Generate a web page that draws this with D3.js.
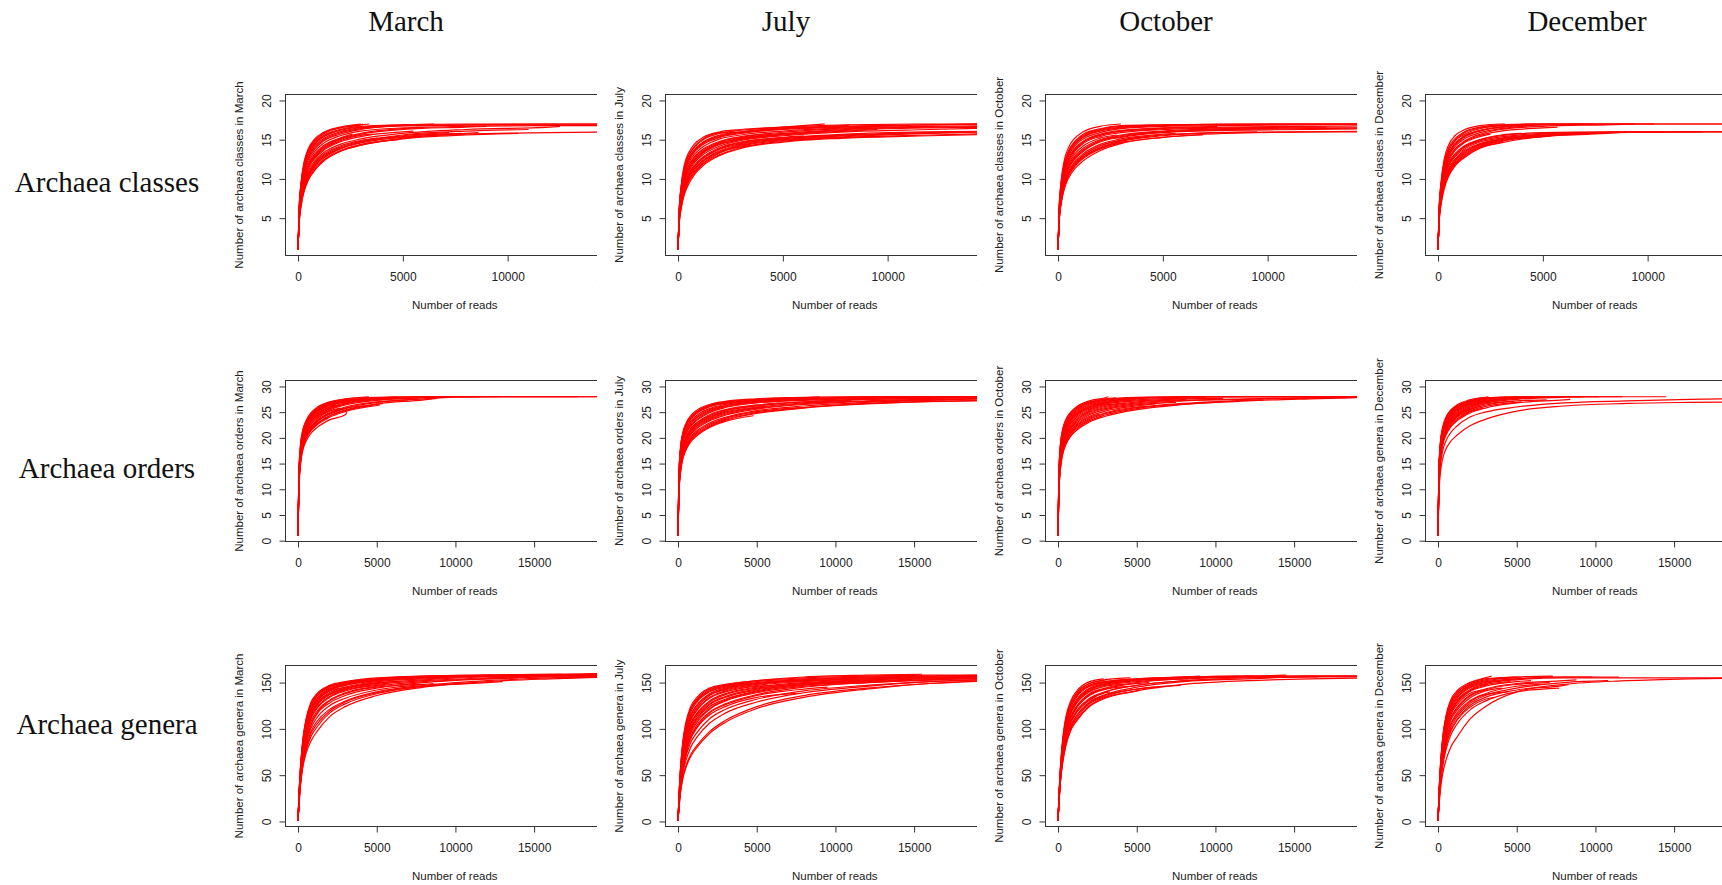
<!DOCTYPE html>
<html>
<head>
<meta charset="utf-8">
<script src="https://cdn.jsdelivr.net/npm/d3@7"></script>
<style>
  html, body { margin: 0; padding: 0; background: #ffffff; }
  svg { display: block; }
  .axis text { font-family: "Liberation Sans", Arial, sans-serif; font-size: 12px; fill: #222; }
  .title { font-family: "Liberation Sans", Arial, sans-serif; font-size: 11.5px; fill: #222; }
  .head { font-family: "Liberation Serif", "Times New Roman", serif; font-size: 29px; fill: #111; }
</style>
</head>
<body>
<svg id="chart" width="1722" height="885"></svg>
<script>
// ---------------- data ----------------
const months = ["March", "July", "October", "December"];
const rowNames = ["Archaea classes", "Archaea orders", "Archaea genera"];

const yTitles = [
  ["Number of archaea classes in March", "Number of archaea classes in July", "Number of archaea classes in October", "Number of archaea classes in December"],
  ["Number of archaea orders in March", "Number of archaea orders in July", "Number of archaea orders in October", "Number of archaea genera in December"],
  ["Number of archaea genera in March", "Number of archaea genera in July", "Number of archaea genera in October", "Number of archaea genera in December"]
];
const xTitle = "Number of reads";

// read depths at which each rarefaction curve is sampled
const readsGridClasses = [0, 50, 150, 300, 500, 800, 1200, 2000, 3000, 5000, 8000, 12000, 15000];
const readsGridDeep = [0, 50, 150, 300, 500, 800, 1200, 2000, 3000, 5000, 8000, 12000, 16000, 20000];

// axis limits (before the usual 4% padding) and tick values
const xMaxClasses = 14958, xMaxDeep = 19920;
const yLimClasses = [1, 20], yLimOrders = [1, 30], yLimGenera = [1, 162];
const xTicksClasses = [0, 5000, 10000, 15000];
const xTicksDeep = [0, 5000, 10000, 15000, 20000];
const yTicksClasses = [5, 10, 15, 20];
const yTicksOrders = [0, 5, 10, 15, 20, 25, 30];
const yTicksGenera = [0, 50, 100, 150];

// Each curve: [last read count, taxa at each grid depth below it ..., taxa at the last read count]
const marchClasses = [
  [3000, 1, 6.1, 9.7, 12.3, 13.9, 15.1, 15.9, 16.6, 17],
  [3400, 1, 5.9, 9.4, 12.0, 13.6, 14.8, 15.7, 16.5, 16.9, 17],
  [6500, 1, 5.8, 9.3, 11.8, 13.4, 14.6, 15.5, 16.3, 16.7, 16.9, 17],
  [15000, 1, 5.6, 8.9, 11.3, 12.9, 14.2, 15.1, 16.0, 16.5, 16.8, 16.9, 17, 17],
  [4200, 1, 5.4, 8.6, 11.0, 12.5, 13.8, 14.8, 15.7, 16.3, 16.7],
  [15000, 1, 5.3, 8.4, 10.7, 12.2, 13.5, 14.5, 15.5, 16.1, 16.5, 16.7, 16.8, 16.8],
  [2600, 1, 5.2, 8.2, 10.4, 11.9, 13.2, 14.2, 15.2, 15.7],
  [9000, 1, 5.0, 8.0, 10.1, 11.6, 12.9, 13.9, 15.0, 15.7, 16.3, 16.6, 16.7],
  [5500, 1, 4.9, 7.8, 9.9, 11.4, 12.6, 13.6, 14.7, 15.4, 16.0, 16.1],
  [12500, 1, 4.8, 7.6, 9.6, 11.1, 12.3, 13.3, 14.4, 15.1, 15.8, 16.3, 16.6, 16.7],
  [3800, 1, 4.7, 7.4, 9.4, 10.8, 12.1, 13.1, 14.2, 14.9, 15.2],
  [7200, 1, 4.6, 7.2, 9.2, 10.6, 11.8, 12.8, 13.9, 14.7, 15.5, 15.9],
  [15000, 1, 4.5, 7.0, 9.0, 10.4, 11.6, 12.6, 13.8, 14.6, 15.3, 15.7, 15.9, 16.0],
  [4800, 1, 4.4, 6.9, 8.8, 10.2, 11.4, 12.4, 13.6, 14.4, 15.0],
  [10500, 1, 4.3, 6.7, 8.6, 10.0, 11.2, 12.3, 13.5, 14.3, 15.1, 15.6, 15.8],
  [8600, 1, 4.2, 6.6, 8.5, 9.9, 11.1, 12.2, 13.5, 14.3, 15.2, 15.8, 15.9],
  [3100, 1, 6.0, 9.5, 12.1, 13.7, 14.9, 15.8, 16.5, 16.9, 17],
  [15000, 1, 5.7, 9.1, 11.6, 13.1, 14.4, 15.3, 16.2, 16.6, 16.9, 17, 17, 17],
  [15000, 1, 5.45, 8.7, 11.1, 12.7, 14.0, 14.95, 15.85, 16.4, 16.75, 16.85, 16.9, 16.9],
  [6000, 1, 5.1, 8.1, 10.25, 11.75, 13.05, 14.05, 15.1, 15.8, 16.4, 16.5],
  [3600, 1, 4.95, 7.9, 10.0, 11.5, 12.75, 13.75, 14.85, 15.55, 15.7],
  [11000, 1, 4.65, 7.3, 9.3, 10.7, 11.95, 12.95, 14.05, 14.8, 15.6, 16.1, 16.3],
  [2300, 1, 5.75, 9.15, 11.7, 13.25, 14.5, 15.4, 16.2, 16.4],
  [7800, 1, 4.5, 7.1, 9.1, 10.5, 11.7, 12.7, 13.85, 14.65, 15.4, 15.8]
];
const julyClasses = [
  [15000, 1, 5.8, 9.2, 11.8, 13.3, 14.5, 15.3, 16.0, 16.3, 16.6, 16.9, 17, 17],
  [7000, 1, 5.6, 8.9, 11.4, 12.9, 14.1, 15.0, 15.8, 16.2, 16.6, 17],
  [15000, 1, 5.5, 8.7, 11.1, 12.6, 13.8, 14.7, 15.6, 16.0, 16.4, 16.7, 16.9, 17],
  [11000, 1, 5.3, 8.4, 10.8, 12.3, 13.5, 14.4, 15.3, 15.8, 16.3, 16.6, 16.8],
  [15000, 1, 5.2, 8.2, 10.5, 12.0, 13.2, 14.1, 15.1, 15.6, 16.1, 16.5, 16.7, 16.8],
  [4500, 1, 5.1, 8.0, 10.3, 11.7, 12.9, 13.8, 14.8, 15.4, 15.8],
  [15000, 1, 5.0, 7.8, 10.0, 11.4, 12.6, 13.5, 14.6, 15.2, 15.8, 16.3, 16.6, 16.7],
  [9500, 1, 4.9, 7.6, 9.7, 11.1, 12.3, 13.3, 14.4, 15.0, 15.6, 16.1, 16.3],
  [15000, 1, 4.8, 7.4, 9.5, 10.9, 12.1, 13.1, 14.2, 14.9, 15.5, 16.0, 16.3, 16.5],
  [6000, 1, 4.7, 7.2, 9.2, 10.6, 11.8, 12.8, 14.0, 14.7, 15.3, 15.5],
  [15000, 1, 4.6, 7.0, 9.0, 10.4, 11.6, 12.6, 13.8, 14.5, 15.2, 15.7, 16.0, 16.1],
  [13500, 1, 4.5, 6.9, 8.8, 10.2, 11.4, 12.4, 13.6, 14.4, 15.1, 15.6, 15.9, 16.0],
  [15000, 1, 4.4, 6.7, 8.6, 10.0, 11.2, 12.2, 13.4, 14.2, 14.9, 15.4, 15.8, 16.0],
  [3500, 1, 4.3, 6.6, 8.4, 9.8, 11.0, 12.0, 13.3, 14.1, 14.3],
  [15000, 1, 4.2, 6.4, 8.2, 9.6, 10.8, 11.9, 13.1, 14.0, 14.8, 15.3, 15.6, 15.8],
  [15000, 1, 4.0, 6.2, 8.0, 9.3, 10.6, 11.7, 13.0, 13.9, 14.7, 15.2, 15.5, 15.7],
  [8200, 1, 5.4, 8.6, 11.0, 12.5, 13.7, 14.6, 15.5, 16.0, 16.5, 16.8, 16.9],
  [5200, 1, 4.9, 7.7, 9.9, 11.3, 12.5, 13.4, 14.5, 15.1, 15.7, 15.8],
  [15000, 1, 5.35, 8.5, 10.9, 12.4, 13.6, 14.5, 15.4, 15.9, 16.35, 16.7, 16.9, 17],
  [15000, 1, 4.95, 7.7, 9.85, 11.25, 12.45, 13.4, 14.5, 15.1, 15.7, 16.2, 16.5, 16.6],
  [8800, 1, 4.65, 7.1, 9.1, 10.5, 11.7, 12.7, 13.9, 14.6, 15.25, 15.6, 15.8],
  [15000, 1, 4.45, 6.8, 8.7, 10.1, 11.3, 12.3, 13.5, 14.3, 15.0, 15.5, 15.85, 16.0],
  [2700, 1, 5.65, 9.0, 11.5, 13.0, 14.2, 15.1, 15.9, 16.0],
  [12200, 1, 5.05, 7.9, 10.15, 11.55, 12.75, 13.65, 14.7, 15.3, 15.95, 16.4, 16.65, 16.7]
];
const octoberClasses = [
  [3000, 1, 6.2, 9.8, 12.4, 14.0, 15.2, 16.0, 16.7, 17],
  [15000, 1, 6.0, 9.5, 12.0, 13.6, 14.8, 15.7, 16.4, 16.8, 16.9, 17, 17, 17],
  [4400, 1, 5.8, 9.2, 11.7, 13.3, 14.5, 15.4, 16.2, 16.6, 16.8],
  [15000, 1, 5.6, 8.9, 11.3, 12.9, 14.2, 15.1, 15.9, 16.4, 16.7, 16.8, 16.9, 17],
  [7600, 1, 5.5, 8.7, 11.0, 12.6, 13.9, 14.8, 15.7, 16.2, 16.5, 16.7],
  [15000, 1, 5.3, 8.4, 10.7, 12.2, 13.5, 14.5, 15.4, 15.9, 16.3, 16.5, 16.6, 16.6],
  [2800, 1, 5.2, 8.2, 10.4, 11.9, 13.2, 14.2, 15.2, 15.6],
  [10500, 1, 5.1, 8.0, 10.2, 11.7, 12.9, 13.9, 15.0, 15.6, 16.1, 16.4, 16.5],
  [15000, 1, 4.9, 7.7, 9.8, 11.3, 12.5, 13.5, 14.7, 15.3, 15.9, 16.2, 16.3, 16.4],
  [5600, 1, 4.8, 7.5, 9.6, 11.0, 12.2, 13.2, 14.4, 15.1, 15.7, 15.8],
  [15000, 1, 4.6, 7.2, 9.2, 10.6, 11.8, 12.8, 14.0, 14.8, 15.5, 15.9, 16.0, 16.0],
  [6900, 1, 4.5, 7.0, 9.0, 10.4, 11.6, 12.6, 13.8, 14.6, 15.3, 15.6],
  [15000, 1, 4.4, 6.8, 8.7, 10.1, 11.3, 12.3, 13.6, 14.5, 15.3, 15.8, 16.0, 16.1],
  [4000, 1, 4.6, 7.3, 9.4, 10.8, 12.0, 13.0, 14.2, 14.9, 15.3],
  [15000, 1, 5.7, 9.0, 11.5, 13.1, 14.4, 15.3, 16.1, 16.5, 16.8, 16.9, 17, 17],
  [12800, 1, 5.0, 7.9, 10.0, 11.5, 12.7, 13.7, 14.9, 15.5, 16.0, 16.3, 16.5, 16.5],
  [15000, 1, 5.9, 9.35, 11.85, 13.45, 14.65, 15.55, 16.3, 16.7, 16.85, 16.95, 17, 17],
  [5300, 1, 5.4, 8.55, 10.85, 12.4, 13.7, 14.65, 15.55, 16.05, 16.4, 16.5],
  [15000, 1, 5.0, 7.8, 9.9, 11.4, 12.6, 13.6, 14.8, 15.4, 16.0, 16.3, 16.4, 16.5],
  [9500, 1, 4.7, 7.35, 9.4, 10.8, 12.0, 13.0, 14.2, 14.95, 15.6, 15.95, 16.0],
  [3300, 1, 4.5, 7.1, 9.1, 10.5, 11.7, 12.7, 13.9, 14.7, 14.8],
  [15000, 1, 5.45, 8.6, 10.9, 12.45, 13.75, 14.7, 15.6, 16.1, 16.45, 16.6, 16.7, 16.8]
];
const decemberClasses = [
  [3200, 1, 6.2, 9.8, 12.6, 14.3, 15.5, 16.2, 16.8, 17, 17],
  [10300, 1, 6.0, 9.5, 12.2, 13.9, 15.1, 15.9, 16.6, 16.9, 17, 17, 17],
  [15000, 1, 5.8, 9.2, 11.8, 13.5, 14.8, 15.6, 16.4, 16.8, 17, 17, 17, 17],
  [7400, 1, 5.7, 9.0, 11.5, 13.2, 14.5, 15.4, 16.2, 16.6, 16.9, 17],
  [4600, 1, 5.5, 8.7, 11.1, 12.8, 14.1, 15.0, 15.9, 16.4, 16.8],
  [9400, 1, 5.4, 8.5, 10.9, 12.5, 13.8, 14.7, 15.7, 16.3, 16.7, 16.9, 17],
  [2500, 1, 5.3, 8.4, 10.7, 12.3, 13.6, 14.5, 15.4, 15.7],
  [10800, 1, 5.2, 8.2, 10.5, 12.0, 13.2, 14.1, 15.0, 15.5, 15.9, 16.0, 16.0],
  [6100, 1, 5.0, 7.9, 10.1, 11.6, 12.8, 13.7, 14.7, 15.2, 15.7, 15.9],
  [15000, 1, 4.9, 7.7, 9.8, 11.3, 12.5, 13.5, 14.5, 15.1, 15.6, 15.9, 16.0, 16.0],
  [8600, 1, 4.8, 7.5, 9.6, 11.0, 12.2, 13.2, 14.3, 14.9, 15.5, 15.9, 16.0],
  [5400, 1, 4.6, 7.2, 9.2, 10.7, 11.9, 12.9, 14.1, 14.8, 15.4, 15.5],
  [9000, 1, 4.4, 6.8, 8.8, 10.3, 11.6, 12.6, 13.9, 14.6, 15.4, 15.8, 16.0],
  [3600, 1, 5.6, 8.8, 11.3, 13.0, 14.3, 15.2, 16.1, 16.6, 16.8],
  [4000, 1, 5.1, 8.0, 10.3, 11.8, 13.0, 14.0, 15.0, 15.6, 15.8],
  [7000, 1, 5.9, 9.3, 12.0, 13.7, 14.9, 15.8, 16.5, 16.8, 17, 17],
  [15000, 1, 5.65, 8.9, 11.4, 13.1, 14.4, 15.3, 16.15, 16.6, 16.9, 17, 17, 17],
  [5700, 1, 5.35, 8.45, 10.8, 12.4, 13.7, 14.6, 15.55, 16.1, 16.5, 16.6],
  [15000, 1, 5.1, 8.05, 10.3, 11.8, 13.0, 13.9, 14.85, 15.35, 15.8, 15.95, 16, 16],
  [7900, 1, 4.7, 7.35, 9.4, 10.85, 12.05, 13.05, 14.2, 14.85, 15.45, 15.85],
  [3100, 1, 4.5, 7.0, 9.0, 10.5, 11.75, 12.75, 14.0, 14.7, 14.8],
  [12600, 1, 4.85, 7.6, 9.7, 11.15, 12.35, 13.35, 14.4, 15.0, 15.55, 15.9, 16.0, 16.0]
];

const marchOrders = [
  [4500, 1, 13.0, 18.5, 21.5, 23.3, 24.8, 25.9, 27.0, 27.6, 28],
  [20000, 1, 12.5, 18.0, 21.0, 22.9, 24.4, 25.6, 26.8, 27.5, 27.9, 28, 28, 28, 28],
  [3800, 1, 12.2, 17.6, 20.6, 22.5, 24.1, 25.3, 26.5, 27.2, 27.5],
  [11500, 1, 11.8, 17.2, 20.2, 22.1, 23.7, 24.9, 26.2, 27.0, 27.7, 28, 28],
  [5600, 1, 11.5, 16.8, 19.8, 21.7, 23.3, 24.5, 25.9, 26.8, 27.6, 27.7],
  [17800, 1, 11.2, 16.4, 19.4, 21.3, 22.9, 24.1, 25.6, 26.6, 27.4, 27.8, 28, 28, 28],
  [2700, 1, 11.0, 16.1, 19.0, 20.9, 22.5, 23.7, 25.2, 25.8],
  [7000, 1, 10.8, 15.8, 18.7, 20.6, 22.2, 23.4, 24.9, 26.0, 27.0, 27.4],
  [4200, 1, 10.5, 15.5, 18.4, 20.3, 21.9, 23.1, 24.6, 25.7, 26.3],
  [8800, 1, 10.3, 15.2, 18.1, 20.0, 21.6, 22.8, 24.3, 25.4, 26.6, 27.4, 27.7],
  [3100, 1, 9.5, 14.5, 17.5, 19.3, 20.8, 22.0, 23.5, 24.5, 25.0],
  [5200, 1, 10.0, 15.0, 17.9, 19.8, 21.3, 22.5, 24.0, 25.1, 26.3, 26.4],
  [3500, 1, 12.8, 18.3, 21.3, 23.1, 24.6, 25.7, 26.9, 27.5, 27.7],
  [6300, 1, 12.0, 17.4, 20.4, 22.3, 23.9, 25.1, 26.4, 27.1, 27.8, 28],
  [2400, 1, 11.6, 17.0, 20.0, 21.9, 23.5, 24.7, 26.0, 26.5],
  [9800, 1, 10.7, 15.7, 18.6, 20.5, 22.1, 23.3, 24.8, 25.8, 26.9, 27.6, 27.9],
  [20000, 1, 12.3, 17.8, 20.8, 22.7, 24.25, 25.45, 26.65, 27.35, 27.8, 28, 28, 28, 28],
  [4100, 1, 11.9, 17.4, 20.4, 22.3, 23.9, 25.1, 26.35, 27.1, 27.4],
  [6800, 1, 11.3, 16.6, 19.6, 21.5, 23.1, 24.3, 25.75, 26.7, 27.5, 27.7],
  [3300, 1, 10.6, 15.6, 18.5, 20.4, 22.0, 23.2, 24.7, 25.75, 26.0],
  [12800, 1, 11.0, 16.2, 19.2, 21.1, 22.7, 23.9, 25.4, 26.4, 27.3, 27.8, 28, 28],
  [5400, 1, 10.2, 15.1, 18.0, 19.9, 21.5, 22.7, 24.2, 25.3, 26.5, 26.7]
];
const julyOrders = [
  [20000, 1, 12.5, 18.0, 21.0, 22.8, 24.3, 25.4, 26.5, 27.1, 27.6, 27.9, 28, 28, 28],
  [9000, 1, 12.0, 17.4, 20.4, 22.2, 23.7, 24.9, 26.1, 26.8, 27.4, 27.8, 28],
  [20000, 1, 11.6, 16.9, 19.9, 21.7, 23.2, 24.4, 25.7, 26.5, 27.2, 27.6, 27.9, 28, 28],
  [14000, 1, 11.2, 16.4, 19.4, 21.2, 22.7, 23.9, 25.3, 26.2, 27.0, 27.5, 27.8, 27.9],
  [20000, 1, 10.8, 15.9, 18.9, 20.7, 22.2, 23.4, 24.9, 25.9, 26.8, 27.3, 27.7, 27.9, 28],
  [6500, 1, 10.5, 15.5, 18.4, 20.2, 21.8, 23.0, 24.5, 25.5, 26.4, 26.8],
  [20000, 1, 10.2, 15.1, 18.0, 19.8, 21.4, 22.6, 24.1, 25.2, 26.2, 27.0, 27.5, 27.7, 27.8],
  [11000, 1, 9.9, 14.7, 17.6, 19.4, 21.0, 22.2, 23.7, 24.8, 25.9, 26.8, 27.3],
  [20000, 1, 9.6, 14.3, 17.2, 19.0, 20.6, 21.8, 23.3, 24.4, 25.6, 26.5, 27.1, 27.4, 27.6],
  [17000, 1, 9.3, 13.9, 16.8, 18.6, 20.2, 21.4, 22.9, 24.0, 25.3, 26.2, 26.9, 27.3, 27.4],
  [20000, 1, 8.9, 13.4, 16.3, 18.1, 19.7, 20.9, 22.4, 23.6, 24.9, 25.9, 26.7, 27.1, 27.3],
  [4800, 1, 8.5, 13.0, 15.8, 17.6, 19.2, 20.4, 22.0, 23.2, 24.3],
  [8500, 1, 11.9, 17.3, 20.3, 22.1, 23.6, 24.8, 26.0, 26.7, 27.3, 27.7, 27.8],
  [5500, 1, 10.0, 14.9, 17.8, 19.6, 21.2, 22.4, 23.9, 25.0, 26.0, 26.2],
  [20000, 1, 11.4, 16.6, 19.6, 21.4, 22.9, 24.1, 25.5, 26.3, 27.1, 27.6, 27.9, 28, 28],
  [3600, 1, 12.3, 17.7, 20.7, 22.5, 24.0, 25.1, 26.3, 26.9, 27.1],
  [20000, 1, 12.2, 17.6, 20.6, 22.4, 23.9, 25.1, 26.3, 26.95, 27.5, 27.85, 28, 28, 28],
  [20000, 1, 11.0, 16.1, 19.1, 20.9, 22.4, 23.6, 25.1, 26.05, 26.9, 27.4, 27.8, 27.9, 28],
  [15500, 1, 10.4, 15.3, 18.2, 20.0, 21.6, 22.8, 24.3, 25.35, 26.3, 27.0, 27.5, 27.7],
  [20000, 1, 9.75, 14.5, 17.4, 19.2, 20.8, 22.0, 23.5, 24.6, 25.75, 26.65, 27.2, 27.5, 27.7],
  [7800, 1, 9.1, 13.65, 16.55, 18.35, 19.95, 21.15, 22.65, 23.8, 25.1, 25.9],
  [20000, 1, 8.7, 13.2, 16.05, 17.85, 19.45, 20.65, 22.2, 23.4, 24.75, 25.8, 26.6, 27.05, 27.3]
];
const octoberOrders = [
  [3200, 1, 13.0, 18.8, 21.8, 23.6, 25.0, 26.1, 27.2, 27.8, 28],
  [20000, 1, 12.6, 18.3, 21.3, 23.1, 24.6, 25.7, 26.9, 27.5, 27.9, 28, 28, 28, 28],
  [5800, 1, 12.2, 17.8, 20.8, 22.7, 24.2, 25.3, 26.6, 27.3, 27.8, 27.9],
  [20000, 1, 11.8, 17.3, 20.3, 22.2, 23.7, 24.9, 26.2, 27.0, 27.6, 27.9, 28, 28, 28],
  [10500, 1, 11.4, 16.8, 19.8, 21.7, 23.3, 24.5, 25.8, 26.6, 27.2, 27.6, 27.7],
  [4300, 1, 11.0, 16.3, 19.3, 21.2, 22.8, 24.0, 25.4, 26.3, 26.8],
  [20000, 1, 10.6, 15.8, 18.8, 20.7, 22.3, 23.5, 25.0, 25.9, 26.8, 27.3, 27.6, 27.8, 27.9],
  [7500, 1, 10.2, 15.3, 18.3, 20.2, 21.8, 23.0, 24.5, 25.5, 26.4, 26.9],
  [2600, 1, 9.8, 14.8, 17.8, 19.7, 21.3, 22.5, 24.0, 24.6],
  [13000, 1, 9.4, 14.3, 17.3, 19.2, 20.8, 22.0, 23.6, 24.7, 25.9, 26.7, 27.3, 27.4],
  [20000, 1, 9.0, 13.8, 16.8, 18.7, 20.3, 21.5, 23.1, 24.2, 25.5, 26.5, 27.2, 27.6, 27.9],
  [3700, 1, 12.8, 18.5, 21.5, 23.4, 24.8, 25.9, 27.0, 27.6, 27.8],
  [4900, 1, 11.6, 17.0, 20.0, 21.9, 23.5, 24.7, 26.0, 26.8, 27.4],
  [8200, 1, 10.8, 16.0, 19.0, 20.9, 22.5, 23.7, 25.2, 26.1, 27.0, 27.5, 27.6],
  [6200, 1, 10.0, 15.0, 18.0, 19.9, 21.5, 22.7, 24.2, 25.2, 26.2, 26.6],
  [16500, 1, 12.0, 17.5, 20.5, 22.4, 23.9, 25.1, 26.4, 27.1, 27.7, 28, 28, 28, 28],
  [20000, 1, 12.4, 18.05, 21.05, 22.9, 24.4, 25.5, 26.75, 27.4, 27.85, 28, 28, 28, 28],
  [9400, 1, 11.6, 17.05, 20.05, 21.95, 23.5, 24.7, 26.0, 26.8, 27.4, 27.75, 27.8],
  [20000, 1, 10.4, 15.55, 18.55, 20.45, 22.05, 23.25, 24.75, 25.7, 26.6, 27.2, 27.5, 27.75, 27.9],
  [5500, 1, 9.6, 14.55, 17.55, 19.45, 21.05, 22.25, 23.8, 24.85, 26.0, 26.1],
  [3400, 1, 11.2, 16.55, 19.55, 21.45, 23.05, 24.25, 25.6, 26.45, 26.6],
  [11500, 1, 9.2, 14.05, 17.05, 18.95, 20.55, 21.75, 23.35, 24.45, 25.7, 26.6, 27.1]
];
const decemberOrders = [
  [3200, 1, 13.5, 19.2, 22.2, 24.0, 25.4, 26.4, 27.4, 27.9, 28],
  [6000, 1, 13.0, 18.7, 21.7, 23.5, 25.0, 26.1, 27.1, 27.7, 28, 28],
  [11700, 1, 12.6, 18.2, 21.2, 23.1, 24.6, 25.7, 26.8, 27.5, 27.9, 28, 28],
  [4200, 1, 12.2, 17.8, 20.8, 22.7, 24.2, 25.3, 26.5, 27.2, 27.6],
  [14500, 1, 11.8, 17.3, 20.3, 22.2, 23.7, 24.9, 26.2, 27.0, 27.7, 28, 28, 28],
  [9200, 1, 11.4, 16.8, 19.8, 21.7, 23.3, 24.5, 25.9, 26.8, 27.5, 27.9, 28],
  [2700, 1, 11.0, 16.4, 19.4, 21.3, 22.9, 24.1, 25.5, 26.2],
  [5300, 1, 10.7, 16.0, 19.0, 20.9, 22.5, 23.7, 25.2, 26.1, 26.9, 27.0],
  [3600, 1, 12.9, 18.5, 21.5, 23.3, 24.8, 25.9, 27.0, 27.6, 27.8],
  [7600, 1, 12.0, 17.5, 20.5, 22.4, 23.9, 25.1, 26.4, 27.1, 27.7, 28],
  [20000, 1, 9.5, 14.5, 17.5, 19.4, 21.0, 22.3, 24.0, 25.0, 26.0, 26.8, 27.2, 27.5, 27.7],
  [20000, 1, 8.5, 13.2, 16.0, 17.8, 19.3, 20.5, 22.3, 23.6, 25.2, 26.2, 26.7, 26.9, 27.0],
  [2200, 1, 12.4, 18.0, 21.0, 22.9, 24.4, 25.5, 26.7, 26.8],
  [4800, 1, 11.2, 16.6, 19.6, 21.5, 23.1, 24.3, 25.7, 26.6, 27.1],
  [8400, 1, 10.4, 15.6, 18.6, 20.5, 22.1, 23.3, 24.8, 25.8, 26.8, 27.4, 27.5],
  [6600, 1, 13.2, 18.9, 21.9, 23.8, 25.2, 26.2, 27.2, 27.8, 28, 28],
  [5100, 1, 12.8, 18.45, 21.45, 23.3, 24.8, 25.85, 26.95, 27.55, 27.9, 27.9],
  [10200, 1, 12.3, 17.95, 20.95, 22.85, 24.35, 25.45, 26.6, 27.3, 27.8, 28, 28],
  [3900, 1, 11.6, 17.05, 20.05, 21.95, 23.5, 24.7, 26.05, 26.9, 27.2],
  [6900, 1, 11.0, 16.3, 19.3, 21.2, 22.8, 24.0, 25.45, 26.35, 27.2, 27.4],
  [2900, 1, 10.5, 15.8, 18.8, 20.7, 22.3, 23.5, 25.0, 25.8],
  [4400, 1, 13.1, 18.8, 21.8, 23.65, 25.1, 26.15, 27.15, 27.7, 27.9]
];

const marchGenera = [
  [12300, 1, 25, 58, 88, 110, 128, 138, 147, 151, 155, 157, 158, 158],
  [20000, 1, 24, 55, 85, 107, 125, 136, 145, 150, 154, 157, 158, 159, 160],
  [7200, 1, 23, 53, 82, 104, 122, 133, 143, 148, 153, 155],
  [17500, 1, 22, 51, 79, 101, 119, 130, 141, 147, 152, 155, 157, 158, 158],
  [9500, 1, 21, 50, 77, 98, 116, 128, 139, 145, 151, 154, 155],
  [20000, 1, 20, 48, 74, 95, 113, 125, 137, 143, 149, 153, 156, 157, 158],
  [5600, 1, 19, 46, 72, 92, 110, 122, 134, 141, 147, 148],
  [14000, 1, 19, 45, 70, 89, 107, 119, 131, 139, 146, 151, 154, 155],
  [20000, 1, 18, 43, 67, 86, 103, 116, 128, 136, 144, 150, 154, 156, 157],
  [8600, 1, 17, 42, 65, 83, 100, 112, 125, 133, 142, 148, 149],
  [20000, 1, 17, 41, 63, 80, 96, 108, 121, 130, 140, 147, 152, 155, 156],
  [11000, 1, 16, 39, 60, 76, 91, 102, 117, 127, 138, 146, 149],
  [20000, 1, 15, 38, 58, 73, 86, 97, 113, 124, 136, 145, 151, 154, 156],
  [4400, 1, 24, 56, 86, 108, 126, 137, 146, 150, 152],
  [6400, 1, 20, 49, 76, 97, 115, 127, 138, 144, 150, 151],
  [16800, 1, 22, 52, 80, 102, 120, 131, 142, 148, 153, 156, 158, 159, 159],
  [3200, 1, 21, 50, 78, 100, 118, 130, 141, 145, 146],
  [20000, 1, 23, 54, 84, 106, 124, 135, 144, 149, 153, 156, 157, 158, 159],
  [20000, 1, 24, 56, 86, 108, 126, 137, 146, 150, 154, 156, 157, 158, 159],
  [10500, 1, 22, 52, 81, 103, 121, 132, 142, 147, 152, 155, 156],
  [20000, 1, 20, 47, 73, 93, 111, 123, 135, 142, 148, 152, 155, 157, 158],
  [7800, 1, 18, 44, 68, 87, 104, 117, 130, 138, 145, 148],
  [13000, 1, 16, 40, 62, 78, 94, 105, 119, 129, 139, 146, 150, 151],
  [5200, 1, 21, 49, 75, 96, 114, 126, 137, 143, 149, 149]
];
const julyGenera = [
  [20000, 1, 24, 56, 86, 107, 124, 134, 144, 148, 152, 155, 157, 158, 158],
  [15500, 1, 23, 54, 83, 104, 121, 131, 142, 147, 152, 156, 158, 159],
  [20000, 1, 22, 52, 80, 101, 118, 129, 140, 145, 150, 153, 155, 156, 157],
  [9000, 1, 21, 50, 77, 98, 115, 126, 138, 144, 149, 152, 153],
  [20000, 1, 20, 48, 74, 95, 112, 123, 136, 142, 148, 152, 154, 155, 156],
  [6000, 1, 19, 46, 71, 92, 109, 120, 133, 140, 146, 147],
  [20000, 1, 19, 45, 69, 89, 106, 117, 130, 138, 145, 150, 153, 155, 156],
  [12500, 1, 18, 43, 66, 86, 103, 114, 127, 135, 143, 149, 152, 152],
  [20000, 1, 17, 41, 63, 82, 99, 111, 124, 132, 141, 148, 152, 154, 155],
  [17000, 1, 16, 39, 60, 79, 95, 107, 121, 130, 139, 146, 150, 153, 154],
  [20000, 1, 16, 38, 58, 76, 92, 104, 118, 127, 137, 145, 150, 153, 155],
  [7500, 1, 15, 36, 56, 73, 89, 101, 115, 124, 134, 138],
  [20000, 1, 14, 34, 52, 66, 80, 91, 106, 117, 129, 139, 146, 151, 153],
  [20000, 1, 12, 31, 47, 60, 72, 82, 97, 109, 124, 136, 144, 149, 152],
  [20000, 1, 12, 30, 46, 58, 70, 80, 95, 107, 122, 134, 143, 149, 152],
  [4500, 1, 23, 55, 84, 105, 122, 132, 143, 147, 149],
  [20000, 1, 21, 49, 76, 97, 114, 125, 137, 143, 149, 153, 156, 157, 158],
  [10500, 1, 18, 44, 68, 88, 105, 116, 129, 137, 144, 149, 151],
  [20000, 1, 22, 53, 82, 103, 120, 130, 141, 146, 151, 154, 156, 157, 158],
  [20000, 1, 20, 47, 72, 93, 110, 121, 134, 141, 147, 151, 154, 155, 156],
  [14000, 1, 18, 42, 65, 84, 101, 112, 126, 134, 142, 148, 151, 152],
  [20000, 1, 17, 40, 61, 80, 97, 109, 122, 131, 140, 147, 151, 153, 155],
  [9500, 1, 15, 37, 57, 74, 90, 102, 117, 126, 136, 143, 145],
  [20000, 1, 15, 35, 54, 70, 85, 96, 111, 121, 132, 141, 147, 151, 154]
];
const octoberGenera = [
  [2900, 1, 24, 58, 90, 113, 130, 141, 151, 154],
  [4600, 1, 23, 56, 87, 110, 127, 139, 149, 153, 155],
  [20000, 1, 23, 55, 85, 108, 125, 137, 147, 151, 154, 156, 157, 157, 157],
  [3500, 1, 22, 53, 83, 106, 123, 135, 146, 150, 151],
  [6800, 1, 22, 52, 81, 103, 120, 132, 144, 149, 153, 154],
  [14500, 1, 21, 51, 79, 101, 118, 130, 142, 148, 152, 155, 157, 158],
  [4100, 1, 21, 50, 77, 99, 116, 128, 140, 146, 148],
  [20000, 1, 20, 49, 75, 96, 113, 125, 138, 144, 150, 154, 156, 157, 157],
  [5800, 1, 20, 48, 73, 94, 111, 123, 136, 143, 149, 150],
  [10500, 1, 19, 47, 71, 91, 108, 120, 133, 140, 147, 152, 154],
  [3300, 1, 19, 46, 70, 89, 106, 118, 131, 139, 140],
  [20000, 1, 18, 45, 68, 87, 103, 115, 129, 137, 145, 151, 154, 156, 156],
  [7800, 1, 18, 44, 66, 85, 101, 112, 127, 135, 143, 147],
  [5200, 1, 17, 43, 65, 83, 99, 110, 125, 134, 141, 142],
  [20000, 1, 17, 42, 64, 82, 98, 109, 124, 133, 141, 148, 152, 154, 155],
  [12400, 1, 21, 52, 80, 102, 119, 131, 143, 148, 153, 156, 157, 157],
  [2500, 1, 20, 48, 74, 95, 112, 124, 137, 141],
  [9000, 1, 22, 54, 84, 107, 124, 136, 147, 151, 154, 156, 157],
  [20000, 1, 22, 54, 84, 106, 123, 135, 146, 150, 153, 155, 156, 157, 157],
  [8300, 1, 21, 51, 78, 100, 117, 129, 141, 147, 151, 154, 154],
  [4500, 1, 20, 48, 74, 95, 112, 124, 137, 143, 146],
  [16500, 1, 19, 46, 70, 90, 107, 119, 132, 140, 147, 152, 155, 156, 156],
  [6200, 1, 18, 44, 67, 86, 102, 114, 128, 136, 143, 145],
  [3100, 1, 23, 56, 88, 111, 128, 139, 149, 153, 154]
];
const decemberGenera = [
  [3400, 1, 26, 60, 92, 114, 131, 141, 150, 155, 157],
  [7300, 1, 25, 58, 89, 111, 128, 139, 148, 153, 156, 157],
  [11500, 1, 24, 56, 86, 108, 125, 136, 146, 151, 154, 156, 156],
  [20000, 1, 23, 54, 83, 105, 122, 133, 144, 149, 153, 155, 155, 155, 155],
  [4600, 1, 23, 53, 81, 103, 120, 131, 142, 148, 151],
  [5900, 1, 22, 51, 79, 100, 117, 128, 140, 146, 151, 152],
  [2800, 1, 21, 50, 77, 98, 115, 126, 138, 142],
  [8800, 1, 21, 49, 75, 95, 112, 123, 136, 143, 149, 152, 153],
  [4100, 1, 20, 47, 72, 92, 109, 120, 133, 141, 144],
  [6500, 1, 19, 45, 69, 89, 105, 117, 130, 138, 146, 148],
  [10800, 1, 18, 43, 66, 85, 101, 113, 127, 136, 144, 150, 152],
  [3600, 1, 17, 41, 63, 81, 97, 109, 123, 132, 134],
  [7700, 1, 16, 39, 60, 77, 93, 105, 120, 130, 140, 144],
  [20000, 1, 14, 34, 52, 66, 80, 91, 110, 124, 140, 148, 152, 154, 155],
  [5300, 1, 24, 57, 88, 110, 127, 137, 147, 152, 155, 155],
  [2400, 1, 22, 52, 80, 101, 118, 129, 141, 144],
  [5100, 1, 25, 59, 90, 112, 129, 139, 149, 154, 156, 156],
  [9800, 1, 23, 55, 84, 106, 123, 134, 145, 150, 154, 156, 156],
  [3200, 1, 22, 52, 80, 101, 118, 129, 141, 147, 148],
  [7100, 1, 20, 48, 74, 94, 111, 122, 135, 142, 148, 150],
  [4400, 1, 19, 44, 68, 87, 104, 115, 129, 137, 140],
  [8300, 1, 17, 41, 64, 82, 98, 110, 125, 134, 142, 147, 148]
];

// ---------------- layout ----------------
const rows = [
  { grid: readsGridClasses, xMax: xMaxClasses, yLim: yLimClasses, xTicks: xTicksClasses, yTicks: yTicksClasses,
    panels: [marchClasses, julyClasses, octoberClasses, decemberClasses] },
  { grid: readsGridDeep, xMax: xMaxDeep, yLim: yLimOrders, xTicks: xTicksDeep, yTicks: yTicksOrders,
    panels: [marchOrders, julyOrders, octoberOrders, decemberOrders] },
  { grid: readsGridDeep, xMax: xMaxDeep, yLim: yLimGenera, xTicks: xTicksDeep, yTicks: yTicksGenera,
    panels: [marchGenera, julyGenera, octoberGenera, decemberGenera] }
];

const W = 1722, H = 885;
const boxLeft0 = 285.5, colStep = 380, boxW = 338.6, visibleW = 311.5;
const rowTops = [94.5, 380.5, 665.5], boxH = 161;
const headX = [406, 786, 1166, 1587];
const rowLabelBaselines = [192, 478, 734];

const svg = d3.select("#chart");
svg.append("rect").attr("width", W).attr("height", H).attr("fill", "#fff");
const defs = svg.append("defs");

// R-style 4% padding of the axis range
const pad = (lo, hi) => { const d = (hi - lo) * 0.04; return [lo - d, hi + d]; };

// column headings
months.forEach((m, c) => {
  svg.append("text").attr("class", "head")
    .attr("x", headX[c]).attr("y", 31)
    .attr("text-anchor", "middle").text(m);
});

// row headings
rowNames.forEach((name, r) => {
  svg.append("text").attr("class", "head")
    .attr("x", 107).attr("y", rowLabelBaselines[r])
    .attr("text-anchor", "middle").text(name);
});

rows.forEach((row, r) => {
  months.forEach((m, c) => {
    const L = boxLeft0 + c * colStep, T = rowTops[r], B = T + boxH;
    const x = d3.scaleLinear().domain(pad(0, row.xMax)).range([L, L + boxW]);
    const y = d3.scaleLinear().domain(pad(row.yLim[0], row.yLim[1])).range([B, T]);

    const clipId = `clip-${r}-${c}`;
    defs.append("clipPath").attr("id", clipId).append("rect")
      .attr("x", L - 90).attr("y", T - 40).attr("width", 90 + visibleW).attr("height", boxH + 120);

    const g = svg.append("g").attr("clip-path", `url(#${clipId})`);

    // frame
    g.append("rect").attr("x", L).attr("y", T).attr("width", boxW).attr("height", boxH)
      .attr("fill", "none").attr("stroke", "#333").attr("stroke-width", 1);

    // axes (ticks whose label would sit wholly past the page edge are left out)
    const xTickVals = row.xTicks.filter(v => x(v) - 18 < W);
    const xa = g.append("g").attr("class", "axis").attr("transform", `translate(0,${B})`)
      .call(d3.axisBottom(x).tickValues(xTickVals).tickSize(6).tickFormat(d3.format("d")));
    xa.select(".domain").remove();
    xa.selectAll(".tick line").attr("stroke", "#333");
    xa.selectAll(".tick text").attr("dy", "0.71em").attr("y", 17);

    const ya = g.append("g").attr("class", "axis").attr("transform", `translate(${L},0)`)
      .call(d3.axisLeft(y).tickValues(row.yTicks).tickSize(6).tickFormat(d3.format("d")));
    ya.select(".domain").remove();
    ya.selectAll(".tick line").attr("stroke", "#333");
    ya.selectAll(".tick text")
      .attr("transform", "rotate(-90)")
      .attr("x", 0).attr("y", -15).attr("dy", 0)
      .attr("text-anchor", "middle");

    // axis titles
    g.append("text").attr("class", "title")
      .attr("x", L + boxW / 2).attr("y", B + 53)
      .attr("text-anchor", "middle").text(xTitle);
    g.append("text").attr("class", "title")
      .attr("transform", `translate(${L - 43},${(T + B) / 2}) rotate(-90)`)
      .attr("text-anchor", "middle").text(yTitles[r][c]);

    // rarefaction curves
    const line = d3.line().x(d => x(d[0])).y(d => y(d[1])).curve(d3.curveMonotoneX);
    const toPoints = cv => {
      const end = cv[0], vals = cv.slice(1);
      return vals.map((v, i) => i < vals.length - 1 ? [row.grid[i], v] : [end, v]);
    };
    g.append("g").selectAll("path").data(row.panels[c]).join("path")
      .attr("d", cv => line(toPoints(cv)))
      .attr("fill", "none").attr("stroke", "#ff0000").attr("stroke-width", 1.2);
  });
});
</script>
</body>
</html>
